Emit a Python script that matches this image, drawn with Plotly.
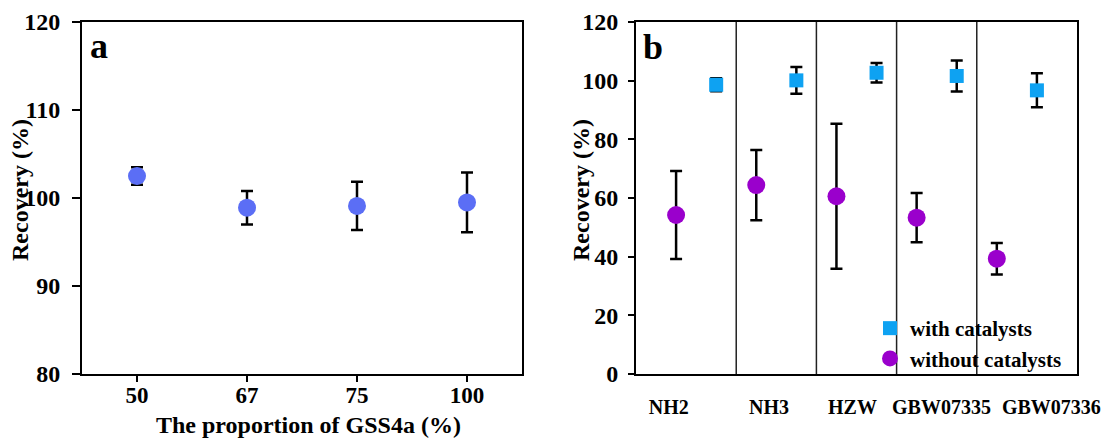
import plotly.graph_objects as go

# ---------- data: panel a ----------
proportion_labels = ["50", "67", "75", "100"]
recovery_a = [102.5, 98.9, 99.1, 99.5]
error_a = [1.0, 1.9, 2.75, 3.4]

# ---------- data: panel b ----------
samples = ["NH2", "NH3", "HZW", "GBW07335", "GBW07336"]
with_cat = [98.6, 100.1, 102.7, 101.6, 96.7]
with_cat_err = [2.2, 4.6, 3.3, 5.3, 5.8]
without_cat = [54.2, 64.4, 60.6, 53.3, 39.3]
without_cat_err = [15.0, 12.0, 24.7, 8.4, 5.4]
yticks_a = [80, 90, 100, 110, 120]
yticks_b = [0, 20, 40, 60, 80, 100, 120]

FONT = "Liberation Serif"
idx = list(range(len(samples)))
x_without = [i for i in idx]
x_with = [i + 0.5 for i in idx]
label_pos = [-0.09, 1.16, 2.2, 3.31, 4.68]

fig = go.Figure()

fig.add_trace(go.Scatter(
    x=proportion_labels, y=recovery_a, mode="markers",
    marker=dict(color="#5B6EF5", size=18, symbol="circle"),
    error_y=dict(type="data", array=error_a, color="black", thickness=2.5, width=6),
    xaxis="x", yaxis="y", showlegend=False))

fig.add_trace(go.Scatter(
    x=x_with, y=with_cat, mode="markers", name="with catalysts",
    marker=dict(color="#0EA2F2", size=14, symbol="square"),
    error_y=dict(type="data", array=with_cat_err, color="black", thickness=2.5, width=6),
    xaxis="x2", yaxis="y2"))

fig.add_trace(go.Scatter(
    x=x_without, y=without_cat, mode="markers", name="without catalysts",
    marker=dict(color="#9A00CC", size=18, symbol="circle"),
    error_y=dict(type="data", array=without_cat_err, color="black", thickness=2.5, width=6),
    xaxis="x2", yaxis="y2"))

# separators between sample groups
shapes = []
for i in idx[:-1]:
    shapes.append(dict(type="line", xref="x2", yref="y2 domain", x0=i + 0.75, x1=i + 0.75,
                       y0=0, y1=1, line=dict(color="#222", width=1.5)))

axis_common = dict(showline=True, linecolor="black", linewidth=2, mirror=True,
                   ticks="outside", tickwidth=2, tickcolor="black",
                   showgrid=False, zeroline=False, automargin=False)
yfont = dict(family=FONT, size=24, color="black", weight="bold")
xfont = dict(family=FONT, size=23, color="black", weight="bold")

y0d, y1d = 1 - 374 / 442, 1 - 22 / 442
fig.update_layout(
    width=1110, height=442,
    margin=dict(l=0, r=0, t=0, b=0),
    paper_bgcolor="white", plot_bgcolor="white",
    font=dict(family=FONT, color="black"),
    xaxis=dict(domain=[82 / 1110, 522 / 1110], type="category", range=[-0.5, 3.5],
               anchor="y", tickfont=xfont, ticklen=6, ticklabelstandoff=-7, **axis_common),
    yaxis=dict(domain=[y0d, y1d], range=[80, 120], tickvals=yticks_a, anchor="x",
               tickfont=yfont, ticklen=8, ticklabelstandoff=7, **axis_common),
    xaxis2=dict(domain=[636 / 1110, 1077 / 1110], range=[-0.5, 5.0], anchor="y2",
                tickvals=label_pos, ticktext=samples,
                showline=True, linecolor="black", linewidth=2, mirror=True,
                ticks="", showgrid=False, zeroline=False, automargin=False,
                tickfont=dict(family=FONT, size=20, color="black", weight="bold"),
                ticklabelstandoff=14),
    yaxis2=dict(domain=[y0d, y1d], range=[0, 120], tickvals=yticks_b, anchor="x2",
                tickfont=yfont, ticklen=6, ticklabelstandoff=5, **axis_common),
    shapes=shapes,
    showlegend=True,
    legend=dict(x=870 / 1110, y=1 - 308 / 442, xanchor="left", yanchor="top",
                bgcolor="rgba(0,0,0,0)",
                font=dict(family=FONT, size=21, color="black", weight="bold"),
                tracegroupgap=0),
    annotations=[
        dict(text="<b>a</b>", xref="paper", yref="paper", x=88 / 1110, y=1 - 46 / 442,
             xanchor="left", yanchor="middle", showarrow=False,
             font=dict(family=FONT, size=36, color="black")),
        dict(text="<b>b</b>", xref="paper", yref="paper", x=641 / 1110, y=1 - 47 / 442,
             xanchor="left", yanchor="middle", showarrow=False,
             font=dict(family=FONT, size=36, color="black")),
        dict(text="<b>Recovery (%)</b>", xref="paper", yref="paper", x=20 / 1110, y=1 - 190 / 442,
             xanchor="center", yanchor="middle", showarrow=False, textangle=-90,
             font=dict(family=FONT, size=24, color="black")),
        dict(text="<b>Recovery (%)</b>", xref="paper", yref="paper", x=581 / 1110, y=1 - 190 / 442,
             xanchor="center", yanchor="middle", showarrow=False, textangle=-90,
             font=dict(family=FONT, size=24, color="black")),
        dict(text="<b>The proportion of GSS4a (%)</b>", xref="paper", yref="paper",
             x=308 / 1110, y=1 - 425 / 442, xanchor="center", yanchor="middle", showarrow=False,
             font=dict(family=FONT, size=24, color="black")),
    ],
)

fig.write_html("out.html", config={"displayModeBar": False},
               post_script="document.body.style.margin='0';")
